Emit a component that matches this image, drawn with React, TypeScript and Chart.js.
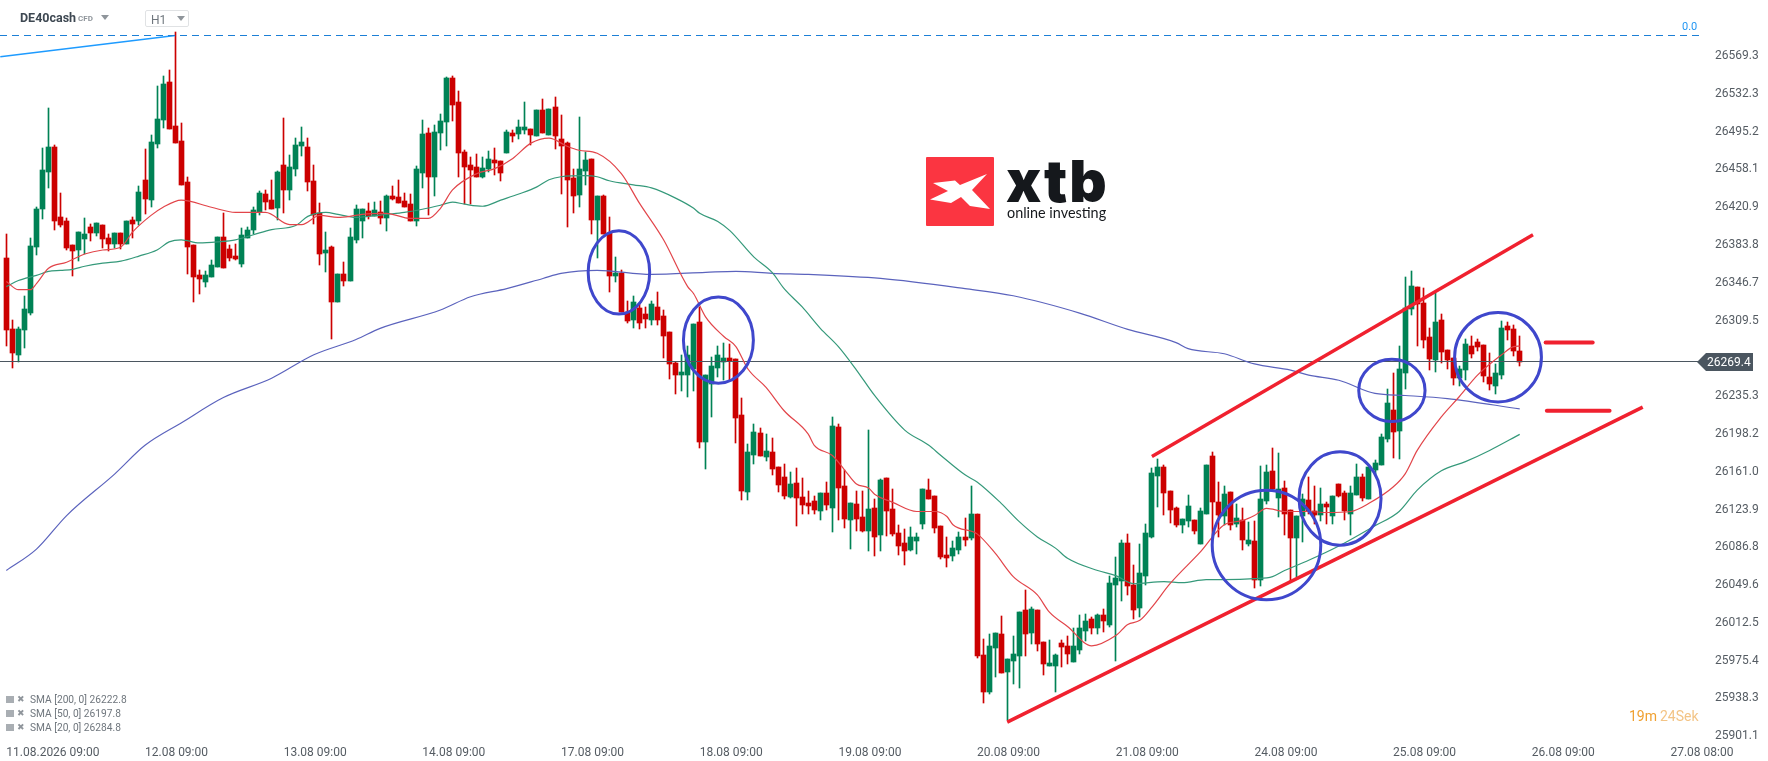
import { useEffect, useRef } from 'react';
import { Chart, registerables } from 'chart.js';

Chart.register(...registerables);

const opens = [
  26371,26301,26276,26300,26317,26382,26419,26456,26480,26411,
  26407,26384,26379,26390,26402,26396,26404,26391,26385,26396,
  26385,26408,26407,26448,26428,26483,26507,26544,26501,26486,
  26446,26384,26354,26348,26352,26362,26392,26380,26373,26365,
  26391,26399,26416,26434,26428,26420,26463,26438,26459,26481,
  26480,26447,26415,26376,26382,26328,26355,26349,26389,26407,
  26417,26412,26416,26410,26432,26431,26427,26424,26407,26455,
  26494,26451,26494,26505,26548,26524,26475,26463,26461,26451,
  26459,26467,26466,26474,26494,26493,26497,26498,26491,26517,
  26492,26520,26488,26484,26450,26433,26457,26468,26408,26432,
  26396,26353,26356,26318,26310,26322,26316,26310,26323,26314,
  26298,26268,26256,26256,26262,26308,26190,26247,26263,26269,
  26273,26272,26217,26141,26178,26199,26176,26180,26166,26156,
  26136,26150,26136,26130,26132,26122,26140,26125,26205,26147,
  26114,26129,26117,26103,26125,26099,26155,26124,26101,26091,
  26084,26093,26110,26143,26137,26108,26079,26078,26084,26097,
  26096,26120,25981,25945,25988,26002,25964,25975,25980,26025,
  26003,26025,25994,25970,25970,25993,25990,25974,25986,26005,
  26016,26007,26020,26010,26050,26054,26091,26050,26027,26059,
  26097,26157,26166,26142,26125,26109,26113,26114,26090,26120,
  26177,26131,26118,26141,26110,26114,26090,26093,26055,26132,
  26162,26135,26145,26123,26096,26118,26133,26122,26119,26129,
  26118,26149,26140,26120,26138,26156,26134,26163,26168,26193,
  26222,26201,26258,26321,26343,26327,26293,26271,26310,26281,
  26273,26253,26261,26285,26289,26286,26254,26245,26256,26304,26301,26280,
];
const closes = [
  26300,26278,26301,26321,26383,26419,26458,26480,26407,26404,
  26381,26378,26397,26395,26396,26406,26390,26385,26396,26385,
  26407,26405,26436,26429,26485,26508,26542,26498,26484,26443,
  26382,26352,26350,26354,26364,26392,26361,26371,26370,26394,
  26399,26418,26435,26426,26419,26456,26438,26461,26482,26485,
  26446,26413,26375,26379,26328,26355,26349,26392,26419,26419,
  26412,26418,26410,26432,26429,26425,26421,26407,26459,26493,
  26451,26495,26506,26548,26521,26474,26461,26458,26451,26460,
  26468,26464,26455,26495,26491,26500,26500,26492,26517,26494,
  26518,26491,26481,26448,26432,26459,26467,26408,26432,26395,
  26353,26356,26318,26309,26328,26307,26311,26326,26310,26294,
  26267,26256,26259,26276,26306,26190,26256,26265,26276,26273,
  26270,26214,26142,26180,26200,26177,26181,26164,26148,26137,
  26149,26135,26128,26127,26123,26140,26128,26206,26145,26115,
  26130,26115,26103,26124,26097,26153,26122,26100,26088,26083,
  26097,26097,26144,26134,26106,26077,26076,26086,26097,26094,
  26120,25980,25945,25990,26003,25963,25977,25982,26023,26002,
  26026,25992,25972,25973,25981,25989,25982,25990,26007,26014,
  26007,26020,26014,26052,26057,26091,26049,26025,26062,26101,
  26160,26166,26140,26123,26109,26115,26127,26103,26122,26168,
  26131,26119,26139,26109,26116,26094,26094,26055,26134,26161,
  26144,26144,26120,26096,26118,26134,26122,26119,26129,26126,
  26137,26137,26122,26140,26156,26135,26166,26170,26195,26229,
  26200,26262,26322,26344,26326,26291,26272,26308,26279,26271,
  26253,26262,26287,26277,26284,26255,26247,26258,26302,26300,26280,26269.4,
];
const highs = [
  26395,26310,26303,26334,26391,26421,26479,26519,26482,26435,
  26410,26384,26397,26410,26405,26406,26404,26395,26396,26396,
  26407,26411,26442,26478,26492,26540,26550,26556,26593,26504,
  26451,26384,26359,26358,26369,26392,26415,26384,26385,26401,
  26402,26421,26437,26438,26448,26457,26509,26472,26489,26500,
  26489,26463,26425,26397,26383,26355,26367,26401,26423,26419,
  26425,26426,26427,26433,26442,26448,26435,26434,26462,26507,
  26499,26502,26513,26549,26550,26535,26477,26470,26473,26470,
  26476,26479,26466,26497,26497,26507,26524,26498,26517,26527,
  26518,26529,26512,26485,26459,26510,26475,26468,26432,26433,
  26411,26372,26359,26329,26334,26327,26323,26329,26338,26320,
  26298,26269,26276,26285,26306,26323,26256,26274,26285,26288,
  26287,26272,26234,26188,26208,26204,26198,26194,26166,26169,
  26161,26165,26155,26142,26137,26140,26151,26215,26208,26163,
  26130,26142,26142,26202,26134,26154,26155,26144,26109,26105,
  26107,26101,26144,26154,26137,26108,26097,26093,26102,26116,
  26147,26120,25997,26002,26003,26019,25977,26000,26023,26045,
  26028,26025,25994,25996,25982,25996,26000,26007,26020,26021,
  26018,26021,26026,26059,26077,26094,26100,26069,26090,26110,
  26165,26174,26168,26142,26126,26115,26138,26114,26125,26168,
  26180,26151,26147,26141,26129,26125,26112,26113,26167,26168,
  26184,26179,26152,26123,26118,26139,26156,26147,26145,26131,
  26137,26149,26142,26147,26169,26159,26166,26173,26198,26242,
  26258,26285,26352,26358,26343,26342,26302,26337,26316,26281,
  26273,26265,26292,26294,26292,26286,26278,26267,26309,26308,26305,26294,
];
const lows = [
  26285,26263,26269,26283,26315,26374,26409,26440,26399,26402,
  26379,26353,26368,26375,26388,26393,26381,26378,26381,26380,
  26385,26391,26404,26414,26421,26479,26499,26498,26484,26443,
  26355,26328,26336,26343,26352,26362,26361,26368,26369,26362,
  26391,26395,26413,26418,26419,26408,26415,26428,26452,26471,
  26437,26405,26364,26357,26292,26328,26344,26349,26386,26391,
  26409,26412,26405,26398,26428,26425,26421,26407,26403,26440,
  26413,26432,26477,26481,26506,26451,26424,26424,26451,26450,
  26456,26453,26447,26474,26485,26488,26493,26482,26491,26494,
  26492,26478,26434,26402,26415,26421,26443,26395,26371,26395,
  26338,26348,26318,26307,26302,26301,26302,26305,26305,26273,
  26252,26237,26240,26235,26240,26184,26164,26215,26254,26251,
  26251,26189,26133,26133,26169,26177,26172,26158,26141,26134,
  26135,26108,26120,26120,26120,26114,26123,26102,26114,26106,
  26085,26103,26102,26083,26078,26083,26098,26098,26079,26069,
  26083,26080,26105,26134,26101,26075,26067,26073,26080,26088,
  26094,25978,25934,25943,25959,25963,25917,25952,25949,25980,
  25992,25985,25961,25970,25945,25969,25972,25974,25982,25995,
  26002,26002,26004,26008,25975,26034,26040,26016,26018,26050,
  26096,26126,26119,26111,26107,26101,26107,26100,26090,26120,
  26097,26097,26109,26104,26107,26084,26088,26047,26049,26129,
  26142,26117,26099,26054,26058,26092,26120,26110,26113,26110,
  26110,26136,26114,26099,26138,26132,26134,26159,26168,26190,
  26175,26174,26242,26315,26285,26283,26261,26259,26268,26262,
  26246,26245,26251,26273,26280,26249,26241,26237,26252,26291,26275,26265,
];

// moving averages, read at the candle numbers in the *Idx lists
const sma20Idx = [0,2,4,5,7,10,13,16,19,21,24,26,29,34,38,43,47,49,52,55,57,59,63,67,70,72,74,78,81,84,87,90,93,95,98,102,105,109,113,114,116,119,121,123,126,129,133,134,137,139,141,143,144,147,151,154,156,157,161,164,167,171,173,176,180,184,186,188,190,193,198,202,205,207,209,212,216,219,223,226,230,232,234,238,241,244,248,250,251];
const sma20 = [26348,26340,26340,26346,26361,26367,26375,26379,26382,26397,26413,26421,26428,26421,26416,26416,26404,26404,26413,26411,26412,26414,26415,26410,26410,26420,26438,26454,26459,26469,26484,26489,26481,26477,26474,26454,26425,26389,26343,26336,26313,26294,26284,26262,26244,26221,26198,26187,26177,26163,26149,26145,26139,26131,26122,26122,26117,26109,26100,26081,26058,26040,26023,26009,25990,26000,26011,26015,26028,26051,26082,26109,26113,26118,26125,26122,26122,26121,26122,26130,26146,26159,26182,26215,26235,26256,26276,26284,26284.5];
const sma50Idx = [0,2,5,7,9,11,13,16,19,22,25,27,29,32,35,38,41,44,48,50,53,55,58,60,63,66,69,72,74,76,79,82,85,88,90,92,96,98,100,104,107,111,114,115,118,120,124,127,129,132,135,138,141,144,149,153,155,159,161,165,168,171,174,176,181,184,187,192,195,199,202,207,210,212,216,221,227,231,234,238,242,246,251];
const sma50 = [26343,26349,26354,26358,26359,26360,26363,26366,26368,26373,26379,26387,26389,26386,26387,26389,26394,26399,26403,26412,26416,26414,26411,26412,26414,26416,26419,26423,26426,26424,26422,26428,26434,26441,26448,26451,26452,26451,26447,26443,26440,26430,26420,26415,26407,26398,26372,26357,26341,26323,26302,26284,26261,26236,26202,26187,26177,26158,26151,26130,26112,26097,26086,26076,26064,26059,26051,26053,26052,26055,26055,26056,26058,26064,26074,26088,26108,26122,26143,26162,26171,26182,26197.8];
const sma200Idx = [0,5,10,18,23,29,36,44,51,58,62,72,77,83,89,92,98,107,116,121,127,133,145,159,167,178,186,194,196,202,207,213,216,221,227,232,239,251];
const sma200 = [26064,26085,26118,26159,26187,26209,26234,26253,26276,26291,26302,26320,26333,26341,26351,26356,26359,26355,26357,26358,26356,26355,26351,26341,26334,26317,26301,26288,26282,26277,26267,26261,26256,26251,26238,26236,26233,26222.8];

const timeTickIdx = [0,23,46,69,92,115,138,161,184,207,230,253,276];
const timeLabels = ['11.08.2026 09:00','12.08 09:00','13.08 09:00','14.08 09:00','17.08 09:00','18.08 09:00','19.08 09:00','20.08 09:00','21.08 09:00','24.08 09:00','25.08 09:00','26.08 09:00','27.08 08:00'];
const priceTicks = [26569.3,26532.3,26495.2,26458.1,26420.9,26383.8,26346.7,26309.5,26235.3,26198.2,26161.0,26123.9,26086.8,26049.6,26012.5,25975.4,25938.3,25901.1];

const lastPrice = 26269.4;
const fibTop = 26589.79;
const fibLine = [{ x: -1, y: 26568.8 }, { x: 28, y: 26589.8 }];
const upperChannel = [{ x: 190, y: 26176 }, { x: 253.2, y: 26394 }];
const lowerChannel = [{ x: 166, y: 25915 }, { x: 271.4, y: 26224.5 }];
const exitUpper = [{ x: 255.3, y: 26288 }, { x: 263.1, y: 26288 }];
const exitLower = [{ x: 255.5, y: 26221 }, { x: 265.9, y: 26221 }];
// marked areas: centre candle, centre price, half width in candles, half height in points
const circles = [
  [101.6, 26357, 5.1, 41],
  [118.1, 26290.4, 5.8, 42.3],
  [209, 26089, 9, 53.8],
  [221.2, 26134.8, 6.8, 45.9],
  [229.8, 26241, 5.5, 30.5],
  [247.4, 26273.6, 7.2, 43.9],
];

const GREEN = '#008255';
const RED = '#cc0000';
const xMin = -1.05;
const xMax = 280.9;

const snapBars = {
  id: 'snapBars',
  beforeDatasetsDraw(chart: any) {
    chart.data.datasets.forEach((_: any, k: number) => {
      const meta = chart.getDatasetMeta(k);
      if (meta.type !== 'bar') return;
      meta.data.forEach((el: any) => {
        el.x = Math.floor(el.x) + 0.5;
        el.y = Math.round(el.y);
        el.base = Math.round(el.base);
        if (el.y === el.base) el.base = el.y + 1;
      });
    });
  },
};

const marks = {
  id: 'marks',
  afterDatasetsDraw(chart: any) {
    const { ctx, scales } = chart;
    const { x, y } = scales;
    ctx.save();
    ctx.strokeStyle = '#3f47cc';
    ctx.lineWidth = 3;
    circles.forEach(([cx, cy, rx, ry]) => {
      const px = x.getPixelForValue(cx);
      const py = y.getPixelForValue(cy);
      ctx.beginPath();
      ctx.ellipse(px, py, x.getPixelForValue(cx + rx) - px, py - y.getPixelForValue(cy + ry), 0, 0, Math.PI * 2);
      ctx.stroke();
    });
    ctx.restore();
  },
  afterDraw(chart: any) {
    const { ctx, scales } = chart;
    const py = Math.round(scales.y.getPixelForValue(lastPrice));
    const left = chart.chartArea.right - 3;
    ctx.save();
    ctx.fillStyle = '#4b5660';
    ctx.beginPath();
    ctx.moveTo(left, py);
    ctx.lineTo(left + 9, py - 9);
    ctx.lineTo(left + 56, py - 9);
    ctx.lineTo(left + 56, py + 9);
    ctx.lineTo(left + 9, py + 9);
    ctx.closePath();
    ctx.fill();
    ctx.fillStyle = '#fff';
    ctx.font = '12px Roboto';
    ctx.textBaseline = 'middle';
    ctx.fillText(lastPrice.toFixed(1), left + 10, py + 1);
    ctx.restore();
  },
};

const lineSet = (data: any[], color: string, width: number, extra: any = {}) => ({
  type: 'line',
  data,
  borderColor: color,
  borderWidth: width,
  pointRadius: 0,
  tension: 0,
  ...extra,
});

const smaSet = (data: any[], color: string) =>
  lineSet(data, color, 1.2, { order: 3, cubicInterpolationMode: 'monotone' });

const noMargins = (s: any) => {
  s.paddingTop = 0;
  s.paddingBottom = 0;
  s.paddingLeft = 0;
  s.paddingRight = 0;
};

const legendRows = [
  ['SMA [200, 0] 26222.8', 695],
  ['SMA [50, 0] 26197.8', 709],
  ['SMA [20, 0] 26284.8', 723],
];

const App = () => {
  const canvasRef = useRef<HTMLCanvasElement | null>(null);

  useEffect(() => {
    if (!canvasRef.current) return;
    const colors = closes.map((c, i) => (c >= opens[i] ? GREEN : RED));
    const toXY = (idx: number[], vals: number[]) => idx.map((x, i) => ({ x, y: vals[i] }));

    const chart = new Chart(canvasRef.current, {
      type: 'bar',
      data: {
        datasets: [
          lineSet(lowerChannel, '#f0212f', 3.5, { order: 1 }),
          lineSet(upperChannel, '#f0212f', 3.5, { order: 1 }),
          lineSet(exitUpper, '#f0212f', 4, { order: 1, borderCapStyle: 'round' }),
          lineSet(exitLower, '#f0212f', 4, { order: 1, borderCapStyle: 'round' }),
          smaSet(toXY(sma20Idx, sma20), '#e2454a'),
          smaSet(toXY(sma50Idx, sma50), '#35997a'),
          smaSet(toXY(sma200Idx, sma200), '#5b63bd'),
          lineSet([{ x: xMin, y: lastPrice }, { x: xMax, y: lastPrice }], '#4b5660', 1, { order: 4 }),
          lineSet([{ x: xMin, y: fibTop }, { x: xMax, y: fibTop }], '#1c7fd6', 1, { order: 4, borderDash: [7, 5] }),
          lineSet(fibLine, '#1e9bff', 1.5, { order: 4 }),
          {
            data: opens.map((o, i) => ({ x: i, y: [o, closes[i]] })),
            backgroundColor: colors,
            barThickness: 5,
            grouped: false,
            order: 5,
          },
          {
            data: opens.map((_, i) => ({ x: i, y: [lows[i], highs[i]] })),
            backgroundColor: colors,
            barThickness: 1,
            grouped: false,
            order: 6,
          },
        ] as any,
      },
      options: {
        animation: false,
        responsive: false,
        events: [],
        layout: { padding: 0 },
        plugins: { legend: { display: false }, tooltip: { enabled: false }, title: { display: false } },
        scales: {
          x: {
            type: 'linear',
            offset: false,
            min: xMin,
            max: xMax,
            grid: { display: false },
            border: { display: false },
            afterFit: (s: any) => { s.height = 23; noMargins(s); },
            afterBuildTicks: (s: any) => { s.ticks = timeTickIdx.map((value) => ({ value })); },
            ticks: {
              autoSkip: false,
              maxRotation: 0,
              align: 'start',
              padding: 0,
              color: '#555c63',
              font: { family: 'Roboto', size: 12 },
              callback: (v: any) => timeLabels[timeTickIdx.indexOf(v)],
            },
          },
          y: {
            position: 'right',
            min: 25899.38,
            max: 26624.68,
            grid: { display: false },
            border: { display: false },
            afterFit: (s: any) => { s.width = 68; noMargins(s); },
            afterBuildTicks: (s: any) => { s.ticks = priceTicks.map((value) => ({ value })); },
            ticks: {
              autoSkip: false,
              padding: 7,
              color: '#555c63',
              font: { family: 'Roboto', size: 12 },
              callback: (v: any) => Number(v).toFixed(1),
            },
          },
        } as any,
      },
      plugins: [snapBars, marks],
    });

    return () => chart.destroy();
  }, []);

  const text = (left: number, top: number, style: any, children: any) => (
    <div style={{ position: 'absolute', left, top, whiteSpace: 'nowrap', lineHeight: 1, fontFamily: 'Roboto', ...style }}>{children}</div>
  );
  const tri = (left: number, top: number) => (
    <div style={{ position: 'absolute', left, top, width: 0, height: 0, borderLeft: '4px solid transparent', borderRight: '4px solid transparent', borderTop: '5px solid #8f959b' }} />
  );

  return (
    <div style={{ position: 'fixed', left: 0, top: 0, width: 1768, height: 761, background: '#fff', overflow: 'hidden' }}>
      <canvas ref={canvasRef} width={1768} height={761} style={{ position: 'absolute', left: 0, top: 0 }} />

      {text(20, 12, { fontSize: 12.5, fontWeight: 700, color: '#3e4852' }, 'DE40cash')}
      {text(78, 15, { fontSize: 8, fontWeight: 700, color: '#8f959b' }, 'CFD')}
      {tri(101, 15)}
      <div style={{ position: 'absolute', left: 145, top: 10, width: 42, height: 15, border: '1px solid #e0e2e4', borderRadius: 2 }} />
      {text(151, 14, { fontSize: 12, color: '#6f767d' }, 'H1')}
      {tri(177, 16)}
      {text(1682, 21, { fontSize: 11, color: '#2196f3' }, '0.0')}

      <svg width={68} height={69} style={{ position: 'absolute', left: 926, top: 157 }}>
        <rect width={68} height={69} rx={1} fill="#fb3541" />
        <polygon points="7,26 29,23.5 34,28 61,17 46,33 64,52 44,49 35,40 25,46 4,42.5 22,34" fill="#fff" />
      </svg>
      {text(1006, 152, { fontFamily: 'Inter', fontSize: 58, fontWeight: 900, letterSpacing: 2, color: '#15181c' }, 'xtb')}
      {text(1007, 206, { fontFamily: 'Lato', fontSize: 14.4, color: '#15181c' }, 'online investing')}

      {legendRows.map(([label, top]) => (
        <div key={label as string}>
          <div style={{ position: 'absolute', left: 6, top: (top as number) + 1, width: 8, height: 7, background: '#a9aeb3' }} />
          {text(17, top as number, { fontSize: 9, color: '#8f959b' }, '✖')}
          {text(30, top as number, { fontSize: 10.2, color: '#6f767d' }, label)}
        </div>
      ))}

      {text(1629, 709, { fontSize: 14, color: '#f0a030' }, '19m')}
      {text(1660, 709, { fontSize: 14, color: '#f3c486' }, '24Sek')}
    </div>
  );
};

export default App;
